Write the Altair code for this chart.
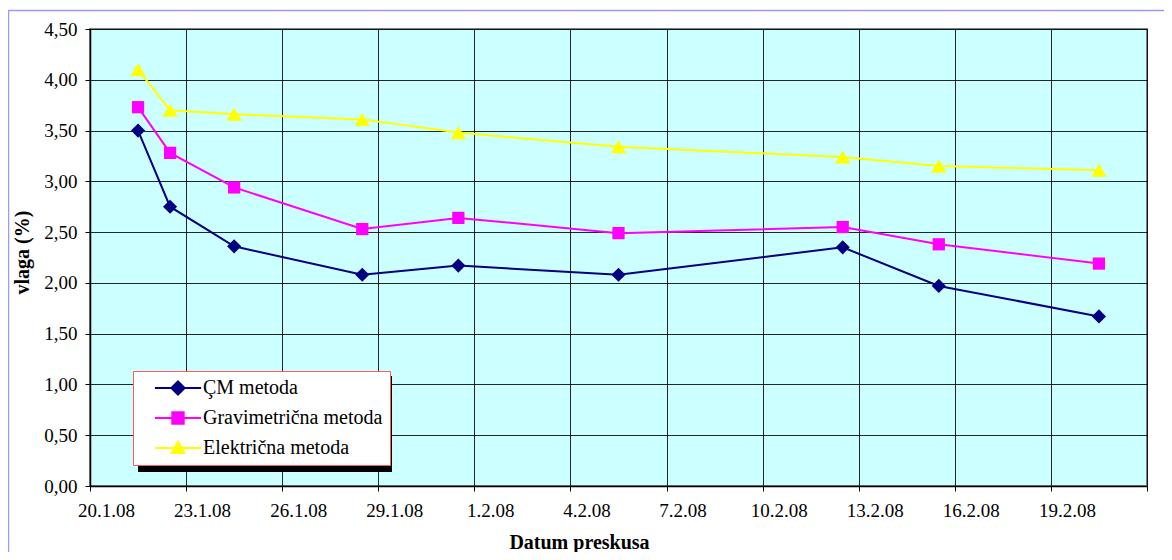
import altair as alt
import pandas as pd

# ---- data ----
dates = ["2008-01-21", "2008-01-22", "2008-01-24", "2008-01-28", "2008-01-31",
         "2008-02-05", "2008-02-12", "2008-02-15", "2008-02-20"]
series_names = ["ÇM metoda", "Gravimetrična metoda", "Električna metoda"]
cm_values = [3.50, 2.75, 2.36, 2.08, 2.17, 2.08, 2.35, 1.97, 1.67]
grav_values = [3.73, 3.28, 2.94, 2.53, 2.64, 2.49, 2.55, 2.38, 2.19]
elek_values = [4.10, 3.70, 3.66, 3.61, 3.48, 3.34, 3.24, 3.15, 3.11]
colors = ["#000080", "#FF00FF", "#FFFF00"]
shapes = ["diamond", "square", "triangle-up"]
marker_sizes = [200, 150, 230]
# legend symbols: line segment plus marker
legend_paths = [
    "M-3.85,0H3.85M0,-1.1L1.1,0L0,1.1L-1.1,0Z",
    "M-3.85,0H3.85M-0.95,-0.95H0.95V0.95H-0.95Z",
    "M-3.85,0H3.85M0,-1.05L1.05,0.85H-1.05Z",
]
tick_days = [(1, 20), (1, 23), (1, 26), (1, 29), (2, 1), (2, 4), (2, 7),
             (2, 10), (2, 13), (2, 16), (2, 19), (2, 22)]
y_ticks = [0, 0.5, 1, 1.5, 2, 2.5, 3, 3.5, 4, 4.5]

rows = []
for name, vals in zip(series_names, [cm_values, grav_values, elek_values]):
    for d, v in zip(dates, vals):
        rows.append({"series": name, "date": d, "value": v})
df = pd.DataFrame(rows)

FONT = "Liberation Serif"

x_enc = alt.X(
    "t:T",
    scale=alt.Scale(domain=[alt.DateTime(year=2008, month=1, date=20),
                            alt.DateTime(year=2008, month=2, date=22)]),
    axis=alt.Axis(
        values=[alt.DateTime(year=2008, month=m, date=d) for m, d in tick_days],
        labelExpr="date(datum.value) == 22 ? '' : timeFormat(datum.value, '%-d.%-m.%y')",
        labelOffset=16, labelPadding=10, labelFlush=False, labelOverlap=False,
        title="Datum preskusa", titleX=489, titleY=56, titleBaseline="middle",
        titleAlign="center", titleAnchor="start",
    ),
)
y_enc = alt.Y(
    "value:Q",
    scale=alt.Scale(domain=[0, 4.5], nice=False, zero=False),
    axis=alt.Axis(
        values=y_ticks,
        labelExpr="replace(format(datum.value, '.2f'), '.', ',')",
        labelPadding=8,
        title="vlaga (%)", titleX=-68, titleY=223, titleAngle=270,
        titleBaseline="middle", titleAlign="center", titleAnchor="start",
    ),
)

base = alt.Chart(df).transform_calculate(
    t="datetime(utcyear(toDate(datum.date)), utcmonth(toDate(datum.date)), utcdate(toDate(datum.date)), 12)"
)

line_layers, point_layers = [], []
for name, col, shp, sz in zip(series_names, colors, shapes, marker_sizes):
    sub = base.transform_filter(alt.datum.series == name)
    line_layers.append(sub.mark_line(strokeWidth=2, color=col).encode(x=x_enc, y=y_enc))
    point_layers.append(
        sub.mark_point(filled=True, opacity=1, shape=shp, size=sz, color=col)
        .encode(x=x_enc, y=y_enc)
    )

leg = alt.Legend(
    orient="none", legendX=43, legendY=342, title=None,
    fillColor="white", strokeColor="#FF5A5A", padding=7,
    labelFont=FONT, labelFontSize=20, labelColor="black", labelLimit=400,
    symbolOffset=28, labelOffset=15, rowPadding=9,
    symbolStrokeWidth=2, symbolSize=144, symbolOpacity=1,
)
# legend-only layer: draws no marks (its scales have explicit domains)
legend_carrier = base.transform_filter("false").mark_point(
    size=144, strokeWidth=2, opacity=1
).encode(
    x=x_enc, y=y_enc,
    fill=alt.Fill("series:N", scale=alt.Scale(domain=series_names, range=colors), legend=leg),
    stroke=alt.Stroke("series:N", scale=alt.Scale(domain=series_names, range=colors), legend=leg),
    shape=alt.Shape("series:N", scale=alt.Scale(domain=series_names, range=legend_paths), legend=leg),
)

deco = alt.Chart(alt.Data(values=[{"k": 1}]))
shadow = deco.mark_rect(color="black").encode(
    x=alt.value(48), x2=alt.value(302), y=alt.value(347), y2=alt.value(443)
)
frame = deco.mark_rect(fill=None, stroke="#9999FF", strokeWidth=1.5).encode(
    x=alt.value(-81.5), x2=alt.value(1200), y=alt.value(-18.5), y2=alt.value(600)
)

chart = alt.layer(frame, *line_layers, *point_layers, shadow, legend_carrier).properties(
    width=1057, height=457,
    padding={"left": 82, "top": 21, "right": 17, "bottom": 66},
    autosize=alt.AutoSizeParams(type="none"),
    background="white",
).configure(
    font=FONT
).configure_view(
    fill="#CCFFFF", stroke="#808080", strokeWidth=2
).configure_axis(
    labelFont=FONT, labelFontSize=19, labelColor="black",
    titleFont=FONT, titleFontSize=20, titleFontWeight="bold", titleColor="black",
    domainColor="black", domainWidth=1.5,
    tickColor="black", tickSize=5, tickWidth=1,
    gridColor="black", gridWidth=1, gridOpacity=0.85,
).configure_legend(
    labelFont=FONT
)

chart.save("out.html", embed_options={"renderer": "svg", "actions": False})
